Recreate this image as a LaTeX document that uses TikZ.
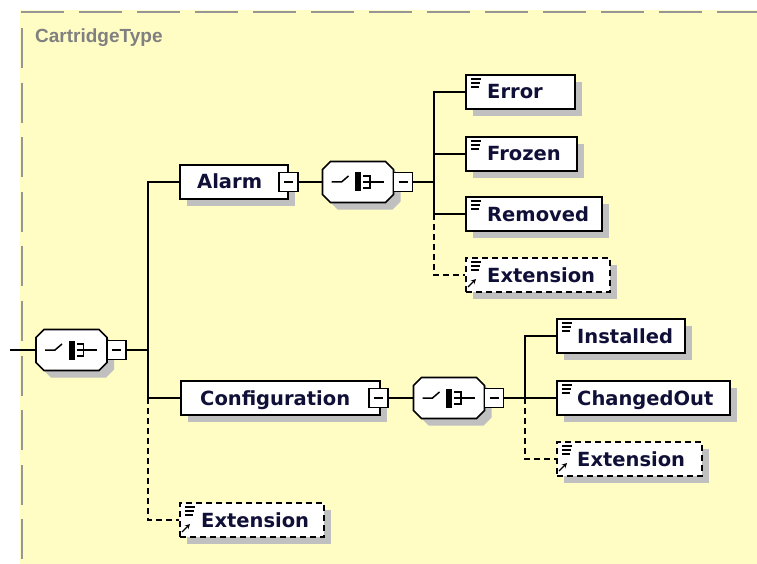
\documentclass[tikz,border=0pt]{standalone}
\usepackage{fontspec}
\setmainfont{DejaVu Sans}
\newfontfamily\titlefont{Liberation Sans}
\usetikzlibrary{shadows,arrows.meta}
\definecolor{bgy}{RGB}{255,252,196}
\definecolor{brd}{RGB}{150,150,150}
\definecolor{shd}{RGB}{192,192,192}
\definecolor{txt}{RGB}{15,15,55}
\definecolor{ttl}{RGB}{128,128,128}
\tikzset{
  conn/.style={line width=1.6pt, black},
  dconn/.style={conn, dash pattern=on 6pt off 4pt},
  elbox/.style={draw=black, fill=white, line width=1.8pt, inner sep=0pt,
    drop shadow={shadow xshift=7pt, shadow yshift=-7pt, fill=shd, opacity=1}},
  optbox/.style={elbox, dash pattern=on 6pt off 4pt},
  minusbox/.style={draw=black, fill=white, line width=1.5pt, inner sep=0pt,
    minimum width=19pt, minimum height=19pt},
  eltext/.style={font=\bfseries\fontsize{19.5}{20}\selectfont, text=txt,
    inner sep=0pt, anchor=base west},
  iconline/.style={line width=1.4pt, black},
}
% element box: style, name, x1, y1, x2, y2, pad, text
\newcommand\elem[8]{%
  \node[#1, minimum width={#5-#3}, minimum height={#6-#4}] (#2) at ({(#3+#5)/2},{(#4+#6)/2}) {};
  \node[eltext] (#2t) at ({#3+#7},{(#4+#6)/2+7}) {#8};
}
\newcommand\icon[2]{%
  \draw[iconline] ({#1+5},{#2+4}) -- ({#1+15},{#2+4});
  \draw[iconline] ({#1+5},{#2+8}) -- ({#1+14},{#2+8});
  \draw[iconline] ({#1+5},{#2+12}) -- ({#1+13},{#2+12});
}
\newcommand\exticon[2]{%
  \icon{#1}{#2}
  \draw[line width=1.3pt, -{Stealth[length=5pt,width=5pt]}] ({#1+2},{#2+29}) -- ({#1+10},{#2+21});
}
\newcommand\octshape[1]{\path[#1] (-27.5,-20.5) -- (27.5,-20.5) -- (35.5,-12.5) -- (35.5,12.5) -- (27.5,20.5) -- (-27.5,20.5) -- (-35.5,12.5) -- (-35.5,-12.5) -- cycle;}
% octagon compositor: name, cx, cy
\newcommand\octo[3]{%
  \begin{scope}[shift={(#2,#3)}]
    \octshape{fill=shd, shift={(7,7)}}
    \octshape{fill=white, draw=black, line width=1.6pt}
    \draw[line width=1.5pt] (-26.5,0) -- (-16.5,0) -- (-9.5,-6);
    \fill (-3,-9.5) rectangle (3,9.5);
    \draw[line width=1.5pt] (5,-6) -- (12,-6) -- (12,6) -- (5,6) (5,0) -- (25.5,0);
  \end{scope}
  \node[inner sep=0pt, minimum width=71pt, minimum height=41pt] (#1) at (#2,#3) {};
}
% minus box: name, cx, cy
\newcommand\minusb[3]{%
  \node[minusbox] (#1) at (#2,#3) {};
  \draw[line width=1.5pt] ({#2-4.5},#3) -- ({#2+4.5},#3);
}
\begin{document}
\begin{tikzpicture}[x=1pt,y=-1pt]
\useasboundingbox (0,0) rectangle (757,564);
\fill[white] (0,0) rectangle (757,564);
\fill[bgy] (20,10) rectangle (757,564);
\draw[brd, line width=2pt, dash pattern=on 43pt off 15pt] (21,12) -- (757,12);
\draw[brd, line width=2pt, dash pattern=on 40pt off 14.6pt] (22,28) -- (22,564);
\node[font=\titlefont\bfseries\fontsize{19}{20}\selectfont, text=ttl, anchor=base west, inner sep=0pt] (title) at (35,43) {CartridgeType};

% junction coordinates
\coordinate (in) at (10,350);
\coordinate (j1) at (148,350);
\coordinate (j2) at (434,182);
\coordinate (j3) at (525,398);

% root compositor
\octo{rootoct}{71.5}{350}
\draw[conn] (in) -- (rootoct.west);
\draw[conn] (rootoct.east) -- (j1);

% element boxes
\elem{elbox}{alarm}{180}{165}{288}{199}{17}{Alarm}
\elem{elbox}{config}{181}{381}{380}{415}{19}{Configuration}
\elem{optbox}{ext0}{180}{503}{324}{537}{21}{Extension}
\elem{elbox}{error}{466}{75}{575}{109}{21}{Error}
\elem{elbox}{frozen}{466}{137}{577}{171}{21}{Frozen}
\elem{elbox}{removed}{466}{197}{602}{231}{21}{Removed}
\elem{optbox}{ext1}{466}{258}{610}{292}{21}{Extension}
\elem{elbox}{installed}{557}{319}{685}{353}{20}{Installed}
\elem{elbox}{changed}{557}{381}{730}{415}{20}{ChangedOut}
\elem{optbox}{ext2}{557}{442}{702}{476}{20}{Extension}

\icon{466}{75}
\icon{466}{137}
\icon{466}{197}
\exticon{466}{258}
\icon{557}{319}
\icon{557}{381}
\exticon{557}{442}
\exticon{180}{503}

\octo{alarmoct}{358}{182}
\octo{cfgoct}{449}{398}

% connectors
\draw[conn] (j1) |- (alarm.west);
\draw[conn] (j1) |- (config.west);
\draw[dconn] (config.west -| j1) |- (ext0.west);

\draw[conn] (alarm.east) -- (alarmoct.west);
\draw[conn] (alarmoct.east) -- (j2);
\draw[conn] (error.west) -| (j2) |- (removed.west);
\draw[conn] (frozen.west -| j2) -- (frozen.west);
\draw[dconn] (removed.west -| j2) |- (ext1.west);

\draw[conn] (config.east) -- (cfgoct.west);
\draw[conn] (cfgoct.east) -- (changed.west);
\draw[conn] (installed.west) -| (j3);
\draw[dconn] (j3) |- (ext2.west);

% minus boxes
\minusb{rootmin}{116.5}{350}
\minusb{alarmmin}{288.5}{182}
\minusb{alarmoctmin}{403}{182}
\minusb{cfgmin}{378.5}{398}
\minusb{cfgoctmin}{494}{398}
\end{tikzpicture}
\end{document}
